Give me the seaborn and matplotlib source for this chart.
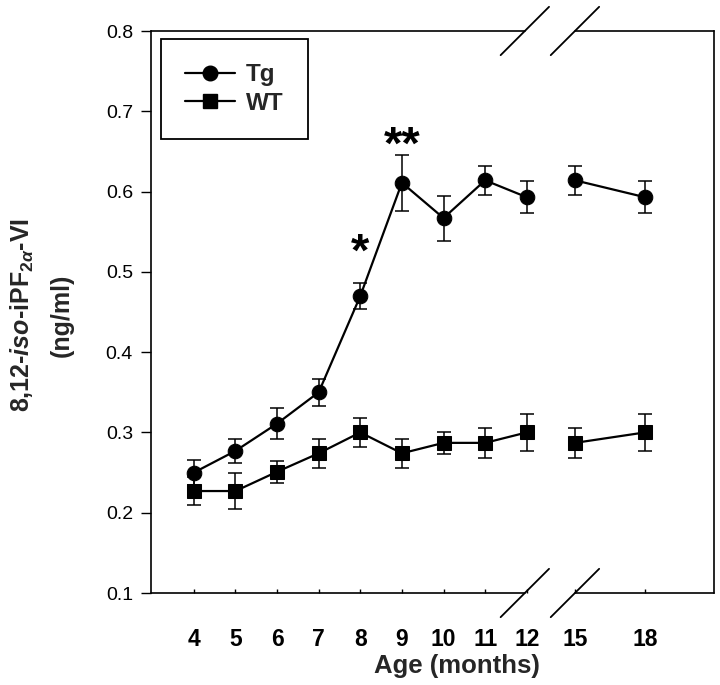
import numpy as np
import pandas as pd
import matplotlib
matplotlib.use("Agg")
import matplotlib.pyplot as plt
from matplotlib.lines import Line2D
import seaborn as sns

# ---- data ----
ages = [4, 5, 6, 7, 8, 9, 10, 11, 12, 15, 18]
tg_mean = [0.250, 0.277, 0.311, 0.350, 0.470, 0.611, 0.567, 0.614, 0.593, 0.614, 0.593]
tg_err = [0.016, 0.015, 0.019, 0.017, 0.016, 0.035, 0.028, 0.018, 0.020, 0.018, 0.020]
wt_mean = [0.227, 0.227, 0.251, 0.274, 0.300, 0.274, 0.287, 0.287, 0.300, 0.287, 0.300]
wt_err = [0.017, 0.022, 0.014, 0.018, 0.018, 0.018, 0.014, 0.019, 0.023, 0.019, 0.023]
segment = ["early"] * 9 + ["late"] * 2          # line is broken between 12 and 15
groups = ["Tg", "WT"]
y_ticks = [0.1, 0.2, 0.3, 0.4, 0.5, 0.6, 0.7, 0.8]
sig_ages = [8, 9]
sig_labels = ["*", "**"]
sig_y = [0.523, 0.656]

# broken-axis scale: age -> axis position
age_pos = {4: 0, 5: 1, 6: 2, 7: 3, 8: 4, 9: 5, 10: 6, 11: 7, 12: 8, 15: 9.16, 18: 10.84}

df = pd.concat([
    pd.DataFrame({"age": ages, "value": tg_mean, "err": tg_err, "group": "Tg", "seg": segment}),
    pd.DataFrame({"age": ages, "value": wt_mean, "err": wt_err, "group": "WT", "seg": segment}),
])
df["pos"] = df["age"].map(age_pos)

sns.set_theme(style="ticks")
plt.rcParams["font.family"] = ["Liberation Sans", "DejaVu Sans"]
plt.rcParams["mathtext.fontset"] = "custom"
plt.rcParams["mathtext.rm"] = "Liberation Sans:bold"
plt.rcParams["mathtext.it"] = "Liberation Sans:italic:bold"
plt.rcParams["mathtext.bf"] = "Liberation Sans:bold"

fig = plt.figure(figsize=(7.2, 6.85), dpi=100)
ax = fig.add_axes([151 / 720, 1 - 593 / 685, (714 - 151) / 720, (593 - 31) / 685])

markers = {"Tg": "o", "WT": "s"}
msize = {"Tg": 10.5, "WT": 10}
for g in groups:
    sub = df[df["group"] == g]
    ax.errorbar(sub["pos"], sub["value"], yerr=sub["err"], fmt="none",
                ecolor="black", elinewidth=1.1, capsize=4.8, capthick=1.1, zorder=2)
    sns.lineplot(data=sub, x="pos", y="value", units="seg", estimator=None,
                 color="black", linewidth=1.6, marker=markers[g], markersize=msize[g],
                 markeredgecolor="black", markerfacecolor="black", ax=ax, zorder=3,
                 legend=False)

for a, lab, yv in zip(sig_ages, sig_labels, sig_y):
    ax.text(age_pos[a], yv, lab, ha="center", va="center", fontsize=34,
            fontweight="bold", color="black")

ax.set_xlim(-1.03, 12.5)
ax.set_ylim(0.1, 0.8)
ax.set_yticks(y_ticks)
ax.set_yticklabels([f"{t:.1f}" for t in y_ticks], fontsize=14)
ax.set_xticks([age_pos[a] for a in ages])
ax.set_xticklabels([str(a) for a in ages], fontsize=16.5, fontweight="bold")
ax.tick_params(axis="y", direction="out", length=7, width=1, pad=6, colors="black")
ax.tick_params(axis="x", direction="in", length=3, width=1, pad=25, colors="black")

ax.set_xlabel("Age (months)", fontsize=18.5, fontweight="bold")
ax.xaxis.set_label_coords(0.544, -0.108)
ax.set_ylabel("")
ax.text(-0.229, 0.494, r"8,12-$\mathit{iso}$-iPF$_{2\alpha}$-VI", transform=ax.transAxes,
        rotation=90, ha="center", va="center", fontsize=18, fontweight="bold")
ax.text(-0.158, 0.494, "(ng/ml)", transform=ax.transAxes,
        rotation=90, ha="center", va="center", fontsize=18, fontweight="bold")

# spines with break
for s in ["left", "right"]:
    ax.spines[s].set_linewidth(1.2)
    ax.spines[s].set_color("black")
ax.spines["top"].set_visible(False)
ax.spines["bottom"].set_visible(False)
gap0, gap1 = 0.664, 0.753
for yy in (0, 1):
    for x0, x1 in ((0, gap0), (gap1, 1)):
        ax.add_line(Line2D([x0, x1], [yy, yy], transform=ax.transAxes, color="black",
                           linewidth=1.2, clip_on=False))
for yc in (0.0, 1.0):
    for xc in (gap0, gap1):
        ax.add_line(Line2D([xc - 0.043, xc + 0.043], [yc - 0.043, yc + 0.043],
                           transform=ax.transAxes, color="black", linewidth=1.3,
                           clip_on=False))

handles = [Line2D([], [], color="black", linewidth=1.6, marker=markers[g],
                  markersize=msize[g], markerfacecolor="black") for g in groups]
leg = ax.legend(handles, groups, loc="upper left", bbox_to_anchor=(0.018, 0.986),
                borderaxespad=0, frameon=True, fancybox=False, shadow=False,
                prop={"weight": "bold", "size": 17.5}, handlelength=2.05,
                handletextpad=0.45, labelspacing=0.22, borderpad=1.0)
leg.get_frame().set_edgecolor("black")
leg.get_frame().set_linewidth(1.3)
leg.get_frame().set_alpha(1)

fig.savefig("out.png", dpi=100)
